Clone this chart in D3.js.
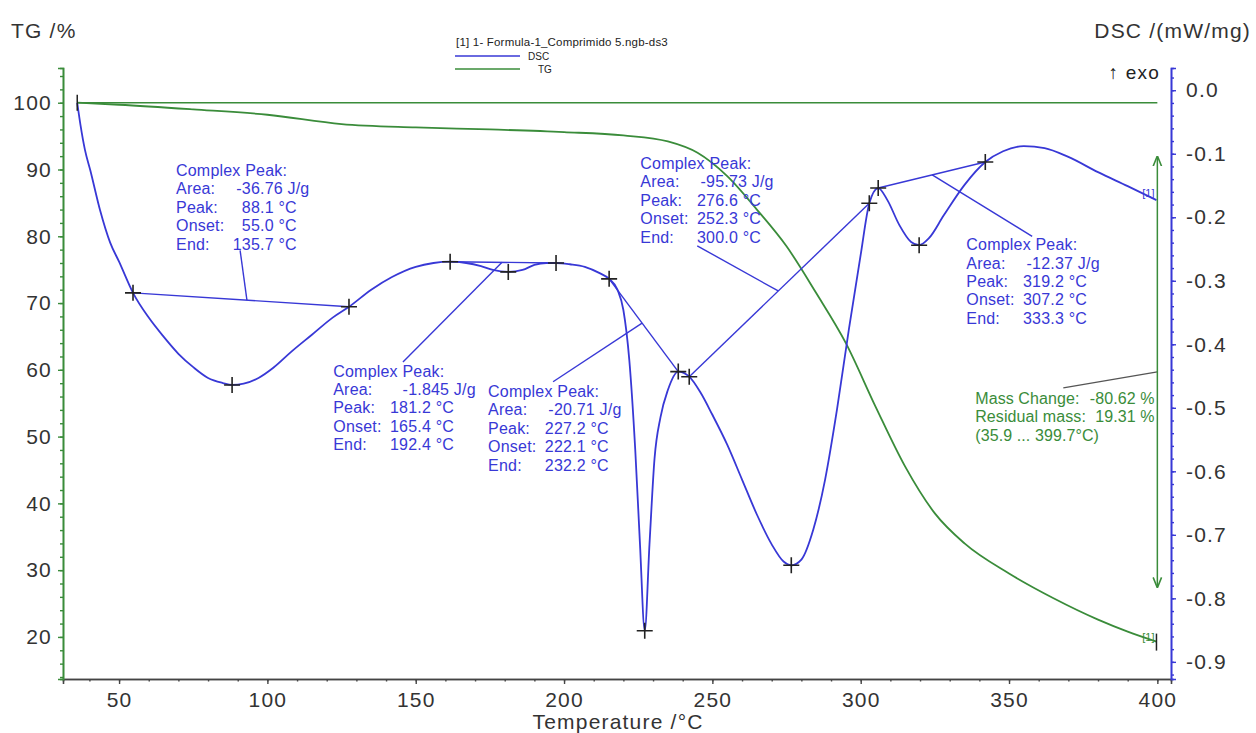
<!DOCTYPE html>
<html>
<head>
<meta charset="utf-8">
<title>TG / DSC - Formula-1 Comprimido 5</title>
<script src="https://cdn.jsdelivr.net/npm/d3@7"></script>
<style>
body { margin: 0; background: #fff; }
svg text { font-family: "Liberation Sans", Arial, sans-serif; }
</style>
</head>
<body>
<script>

// DSC curve, mW/mg against temperature
var dscTemp = [35.9, 37, 38.5, 40.3, 43.6, 47, 50, 54.7, 60, 65, 70, 75, 80, 85, 88.1, 92, 97, 102, 108, 115, 122, 127.5,
  135, 142, 150, 156, 161.6, 167, 172, 176, 181.2, 186, 190, 194, 197.3, 202, 207, 212, 215.2, 218, 220, 222, 224, 225.6,
  227.2, 228.8, 230.5, 232.5, 235, 238.5, 242.2, 246, 250, 255, 260, 265, 270, 274, 276.6, 280, 284, 288, 292, 296, 300,
  302.9, 305.9, 309, 313, 317, 319.7, 323, 328, 335, 342, 348, 355, 362, 370, 380, 390, 399.7];
var dscValue = [-0.020, -0.055, -0.094, -0.126, -0.189, -0.240, -0.270, -0.319, -0.358, -0.388, -0.415, -0.436, -0.453, -0.461, -0.464, -0.462, -0.453, -0.437, -0.412, -0.385, -0.358, -0.341,
  -0.314, -0.294, -0.278, -0.272, -0.270, -0.272, -0.277, -0.283, -0.286, -0.283, -0.275, -0.272, -0.272, -0.274, -0.278, -0.288, -0.297, -0.314, -0.346, -0.425, -0.566, -0.715,
  -0.851, -0.715, -0.580, -0.515, -0.472, -0.443, -0.451, -0.476, -0.511, -0.558, -0.613, -0.668, -0.715, -0.742, -0.748, -0.739, -0.692, -0.613, -0.503, -0.377, -0.259,
  -0.178, -0.154, -0.173, -0.212, -0.239, -0.244, -0.233, -0.197, -0.149, -0.113, -0.096, -0.088, -0.091, -0.105, -0.129, -0.151, -0.173];

// TG curve, mass %
var tgTemp = [35.9, 50, 75, 100, 125, 150, 175, 200, 220, 235, 245, 255, 265, 275, 285, 295, 305, 315, 325, 335, 350, 365, 380, 390, 399.7];
var tgValue = [100, 99.7, 99.0, 98.2, 96.8, 96.3, 96.0, 95.6, 95.1, 94.2, 92.5, 89.0, 84.0, 78.5, 71.5, 64.0, 54.5, 45.5, 38.5, 34.0, 29.5, 25.8, 22.6, 20.8, 19.3];

// crosses on the DSC curve
var markTemp = [54.7, 88.1, 127.5, 161.6, 181.2, 197.3, 215.2, 227.2, 238.5, 242.2, 276.6, 302.9, 305.9, 319.7, 342];

// integration baselines (start/end temperature)
var baseStart = [54.7, 161.6, 215.2, 242.2, 305.9];
var baseEnd = [127.5, 197.3, 238.5, 302.9, 342];

// peak results
var peakArea = ["-36.76", "-1.845", "-20.71", "-95.73", "-12.37"];
var peakTop = ["88.1", "181.2", "227.2", "276.6", "319.2"];
var peakOnset = ["55.0", "165.4", "222.1", "252.3", "307.2"];
var peakEnd = ["135.7", "192.4", "232.2", "300.0", "333.3"];

// label anchors (temperature, DSC) and leader lines
var labelT = [69.2, 122.2, 174.4, 225.7, 335.6];
var labelDSC = [-0.135, -0.451, -0.483, -0.124, -0.252];
var leaderT = [93.1, 179.1, 226.3, 272.2, 324.1];
var leaderEndT = [90.8, 145.7, 196.3, 244.9, 357.8];
var leaderEndDSC = [-0.252, -0.428, -0.459, -0.245, -0.230];

var massLabels = ["Mass Change:", "Residual mass:"];
var massValues = ["-80.62 %", "19.31 %"];
var massRange = "(35.9 ... 399.7°C)";

var xTicks = [50, 100, 150, 200, 250, 300, 350, 400];
var tgTicks = [20, 30, 40, 50, 60, 70, 80, 90, 100];
var dscTicks = [0, -0.1, -0.2, -0.3, -0.4, -0.5, -0.6, -0.7, -0.8, -0.9];

var width = 1256, height = 733;
var blue = "#3838d6", green = "#3a8c3a", ink = "#333";

var svg = d3.select("body").append("svg")
  .attr("width", width)
  .attr("height", height);

var x = d3.scaleLinear().domain([31.1, 404.6]).range([63, 1171]);
var yTG = d3.scaleLinear().domain([13.7, 105.2]).range([679, 68]);
var yDSC = d3.scaleLinear().domain([-0.927, 0.035]).range([679, 68]);

function dscAt(t) { return dscValue[dscTemp.indexOf(t)]; }

// arrow heads
var defs = svg.append("defs");
defs.append("marker").attr("id", "arr")
  .attr("viewBox", "0 0 10 10").attr("refX", 9).attr("refY", 5)
  .attr("markerWidth", 7).attr("markerHeight", 7).attr("orient", "auto-start-reverse")
  .append("path").attr("d", "M0,1L10,5L0,9").attr("fill", "none").attr("stroke", green).attr("stroke-width", 1.5);

// axes
function styleAxis(g, col) {
  g.select(".domain").attr("stroke", col).attr("stroke-width", 1.6);
  g.selectAll(".tick line").attr("stroke", col).attr("stroke-width", 1.4);
  g.selectAll("text").attr("fill", ink).style("font-size", "21px")
    .style("letter-spacing", "1.2px").style("font-family", "Liberation Sans, Arial, sans-serif");
}

var gx = svg.append("g").attr("transform", "translate(0,679)")
  .call(d3.axisBottom(x).tickValues(d3.range(40, 401, 10)).tickSize(2.5).tickFormat(""));
styleAxis(gx, "#444");
var gx2 = svg.append("g").attr("transform", "translate(0,679)")
  .call(d3.axisBottom(x).tickValues(xTicks).tickSize(5).tickPadding(8).tickFormat(d3.format("d")));
styleAxis(gx2, "#444");

var gl = svg.append("g").attr("transform", "translate(63,0)")
  .call(d3.axisLeft(yTG).tickValues(d3.range(14, 105, 2)).tickSize(3).tickFormat(""));
styleAxis(gl, green);
var gl2 = svg.append("g").attr("transform", "translate(63,0)")
  .call(d3.axisLeft(yTG).tickValues(tgTicks).tickSize(5).tickPadding(6).tickFormat(d3.format("d")));
styleAxis(gl2, green);

var gr = svg.append("g").attr("transform", "translate(1171,0)")
  .call(d3.axisRight(yDSC).tickValues(d3.range(-46, 2).map(function(i) { return i * 0.02; })).tickSize(3).tickFormat(""));
styleAxis(gr, blue);
var gr2 = svg.append("g").attr("transform", "translate(1171,0)")
  .call(d3.axisRight(yDSC).tickValues(dscTicks).tickSize(5).tickPadding(10)
    .tickFormat(function(d) { return d.toFixed(1).replace("-0.0", "0.0"); }));
styleAxis(gr2, blue);

// axis titles
function title(t, xx, yy, anchor) {
  svg.append("text").attr("x", xx).attr("y", yy).attr("text-anchor", anchor)
    .style("font-size", "21px").style("letter-spacing", "1.2px").attr("fill", ink).text(t);
}
title("TG /%", 11, 38, "start");
title("DSC /(mW/mg)", 1251, 38, "end");
title("Temperature /°C", x(200) + 54, 729, "middle");
svg.append("text").attr("x", 1160).attr("y", 79).attr("text-anchor", "end").style("font-size", "19px")
  .style("letter-spacing", "1.2px").attr("fill", "#222").text("↑ exo");

// legend
svg.append("text").attr("x", 456).attr("y", 46).style("font-size", "11.5px").style("letter-spacing", "0.2px")
  .attr("fill", "#222").text("[1]  1- Formula-1_Comprimido 5.ngb-ds3");
svg.append("line").attr("x1", 455).attr("x2", 520).attr("y1", 56).attr("y2", 56).attr("stroke", blue).attr("stroke-width", 1.3);
svg.append("text").attr("x", 528).attr("y", 60).style("font-size", "10px").attr("fill", "#222").text("DSC");
svg.append("line").attr("x1", 455).attr("x2", 520).attr("y1", 69).attr("y2", 69).attr("stroke", green).attr("stroke-width", 1.3);
svg.append("text").attr("x", 538).attr("y", 73).style("font-size", "10px").attr("fill", "#222").text("TG");

// TG reference line at 100 %
svg.append("line")
  .attr("x1", x(35.9)).attr("x2", x(400))
  .attr("y1", yTG(100)).attr("y2", yTG(100))
  .attr("stroke", green).attr("stroke-width", 1.6);

// TG curve
var tgLine = d3.line().curve(d3.curveMonotoneX)
  .x(function(d, i) { return x(tgTemp[i]); })
  .y(function(d, i) { return yTG(tgValue[i]); });
svg.append("path").datum(tgTemp).attr("d", tgLine)
  .attr("fill", "none").attr("stroke", green).attr("stroke-width", 1.8);

// DSC curve
var dscLine = d3.line().curve(d3.curveMonotoneX)
  .x(function(d, i) { return x(dscTemp[i]); })
  .y(function(d, i) { return yDSC(dscValue[i]); });
svg.append("path").datum(dscTemp).attr("d", dscLine)
  .attr("fill", "none").attr("stroke", blue).attr("stroke-width", 1.8);

// baselines and leaders
baseStart.forEach(function(t0, i) {
  var t1 = baseEnd[i], v0 = dscAt(t0), v1 = dscAt(t1);
  svg.append("line")
    .attr("x1", x(t0)).attr("y1", yDSC(v0))
    .attr("x2", x(t1)).attr("y2", yDSC(v1))
    .attr("stroke", blue).attr("stroke-width", 1.4);
  var tl = leaderT[i], vl = v0 + (v1 - v0) * (tl - t0) / (t1 - t0);
  svg.append("line")
    .attr("x1", x(tl)).attr("y1", yDSC(vl))
    .attr("x2", x(leaderEndT[i])).attr("y2", yDSC(leaderEndDSC[i]))
    .attr("stroke", blue).attr("stroke-width", 1.4);
});

// crosses
svg.append("g").selectAll("path").data(markTemp).enter().append("path")
  .attr("transform", function(t) { return "translate(" + x(t) + "," + yDSC(dscAt(t)) + ")"; })
  .attr("d", "M-8,0H8M0,-8V8")
  .attr("stroke", "#222").attr("stroke-width", 1.6);

// start / end marks
svg.append("path").attr("d", "M" + x(35.9) + "," + (yTG(100) - 8) + "V" + (yTG(100) + 8))
  .attr("stroke", "#222").attr("stroke-width", 1.5);
svg.append("path").attr("d", "M" + x(399.7) + "," + (yTG(19.3) - 8) + "V" + (yTG(19.3) + 9))
  .attr("stroke", "#222").attr("stroke-width", 1.5);
svg.append("text").attr("x", x(399.7) - 2).attr("y", yDSC(-0.173) - 3).attr("text-anchor", "end")
  .style("font-size", "11px").attr("fill", blue).text("[1]");
svg.append("text").attr("x", x(399.7) - 2).attr("y", yTG(19.3) - 1).attr("text-anchor", "end")
  .style("font-size", "11px").attr("fill", green).text("[1]");

// peak annotations
var rowNames = ["Area:", "Peak:", "Onset:", "End:"];
var lineH = 18.4, decOff = 84;
peakArea.forEach(function(a, i) {
  var g = svg.append("g").attr("fill", blue).style("font-size", "16px").style("letter-spacing", "0.2px");
  var lx = x(labelT[i]), ly = yDSC(labelDSC[i]);
  g.append("text").attr("x", lx).attr("y", ly).text("Complex Peak:");
  var vals = [[a, " J/g"], [peakTop[i], " °C"], [peakOnset[i], " °C"], [peakEnd[i], " °C"]];
  vals.forEach(function(v, k) {
    var yy = ly + lineH * (k + 1);
    var parts = v[0].split(".");
    g.append("text").attr("x", lx).attr("y", yy).text(rowNames[k]);
    g.append("text").attr("x", lx + decOff).attr("y", yy).attr("text-anchor", "end").text(parts[0]);
    g.append("text").attr("x", lx + decOff).attr("y", yy).text("." + parts[1] + v[1]);
  });
});

// mass change
svg.append("line")
  .attr("x1", x(368.3)).attr("y1", yTG(57.3))
  .attr("x2", x(400)).attr("y2", yTG(59.7))
  .attr("stroke", "#555").attr("stroke-width", 1.3);
svg.append("line")
  .attr("x1", x(400)).attr("y1", yTG(91.9))
  .attr("x2", x(400)).attr("y2", yTG(27.5))
  .attr("stroke", green).attr("stroke-width", 1.5)
  .attr("marker-start", "url(#arr)").attr("marker-end", "url(#arr)");
var mg = svg.append("g").attr("fill", green).style("font-size", "16px").style("letter-spacing", "0.1px");
var mx = x(338.6), my = yTG(54.9);
massLabels.forEach(function(l, k) {
  var parts = massValues[k].split(".");
  mg.append("text").attr("x", mx).attr("y", my + lineH * k).text(l);
  mg.append("text").attr("x", mx + 138).attr("y", my + lineH * k).attr("text-anchor", "end").text(parts[0]);
  mg.append("text").attr("x", mx + 138).attr("y", my + lineH * k).text("." + parts[1]);
});
mg.append("text").attr("x", mx).attr("y", my + lineH * 2).text(massRange);

</script>
</body>
</html>
